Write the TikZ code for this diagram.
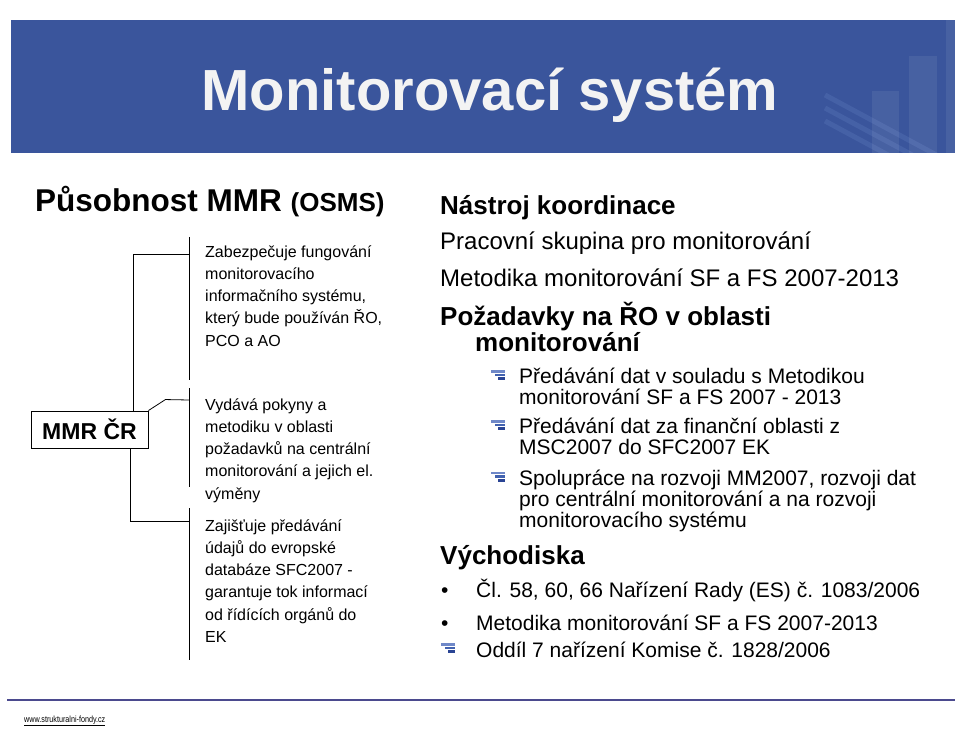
\documentclass[tikz,border=0pt]{standalone}
\usepackage{fontspec}
\setmainfont{Liberation Sans}
\definecolor{hdrblue}{HTML}{3A559C}
\definecolor{hdrstreak}{HTML}{5F7DBE}
\definecolor{titlewhite}{HTML}{F3F3F3}
\definecolor{rulecol}{HTML}{4B4A8E}
\definecolor{barlight}{HTML}{6F88C8}
\definecolor{barmid}{HTML}{4262B0}
\definecolor{bardark}{HTML}{2A4494}
\tikzset{
  barmark/.pic={
    \fill[barlight] (0,0) rectangle (14,2.6);
    \fill[barmid] (4,3.6) rectangle (14,6.4);
    \fill[bardark] (7,7.4) rectangle (14,10.4);
  }
}
\begin{document}
\begin{tikzpicture}[x=1pt, y=-1pt,
    every node/.style={inner sep=0pt},
    para/.style={anchor=base west, align=left},
    small/.style={font=\fontsize{16}{22.3}\selectfont},
    body/.style={font=\fontsize{24}{28}\selectfont},
    sub/.style={font=\fontsize{21}{21}\selectfont},
    head/.style={font=\fontsize{26}{26}\selectfont\bfseries}]
  \useasboundingbox (0,0) rectangle (955,735);
  % header band
  \fill[hdrblue] (11,20) rectangle (955,153);
  \begin{scope}
    \clip (11,20) rectangle (955,153);
    \foreach \d in {0,13,26} {
      \draw[hdrstreak, opacity=.3, line width=5] (825,95+\d) -- (955,165+\d);
    }
    \fill[white, opacity=.07] (872,91) rectangle (899,153);
    \fill[white, opacity=.07] (909,56) rectangle (937,153);
    \fill[white, opacity=.07] (946,20) rectangle (955,153);
  \end{scope}
  \node[anchor=base, text=titlewhite, font=\fontsize{58}{58}\selectfont\bfseries] (title) at (490,111) {Monitorovací systém};

  % left column (multi-line nodes sit on their last line)
  \node[anchor=base west, font=\fontsize{31.5}{31.5}\selectfont\bfseries] (scopehead) at (35,212) {Působnost MMR {\fontsize{26}{26}\selectfont (OSMS)}};
  \node[draw, line width=.9pt, minimum width=117, minimum height=37, font=\fontsize{23}{23}\selectfont\bfseries] (mmr) at (89.5,429.5) {MMR ČR};
  \node[small, para] (duty1) at (205,257+4*22.3) {Zabezpečuje fungování\\monitorovacího\\informačního systému,\\který bude používán ŘO,\\PCO a AO};
  \node[small, para] (duty2) at (205,410+4*22.3) {Vydává pokyny a\\metodiku v oblasti\\požadavků na centrální\\monitorování a jejich el.\\výměny};
  \node[small, para] (duty3) at (205,531+5*22.3) {Zajišťuje předávání\\údajů do evropské\\databáze SFC2007 -\\garantuje tok informací\\od řídících orgánů do\\EK};
  \coordinate (bar1a) at (189,237); \coordinate (bar1b) at (189,380);
  \coordinate (bar2a) at (189,388); \coordinate (bar2b) at (189,487);
  \coordinate (bar3a) at (189,508); \coordinate (bar3b) at (189,660);
  \coordinate (j1) at (189,254);
  \coordinate (j2) at (189,400);
  \coordinate (j3) at (189,521);
  \foreach \i in {1,2,3} {
    \draw[line width=.8pt] (bar\i a) -- (bar\i b);
  }
  \draw[line width=.8pt] ([xshift=-15]mmr.north east) |- (j1);
  \draw[line width=.8pt] (mmr.north east) -- ++(17,-11) -- (j2);
  \draw[line width=.8pt] ([xshift=-18]mmr.south east) |- (j3);

  % right column
  \node[head, anchor=base west] (tool) at (440,215) {Nástroj koordinace};
  \node[body, anchor=base west] (group) at (440,250) {Pracovní skupina pro monitorování};
  \node[body, anchor=base west] (method) at (440,286) {Metodika monitorování SF a FS 2007-2013};
  \node[head, anchor=base west] (req) at (440,325) {Požadavky na ŘO v oblasti};
  \node[head, anchor=base west] (reqb) at (475,351) {monitorování};
  \foreach \y/\n/\txt [count=\i] in {383.5/2/{Předávání dat v souladu s Metodikou\\monitorování SF a FS 2007 - 2013},
      433.5/2/{Předávání dat za finanční oblasti z\\MSC2007 do SFC2007 EK},
      485/3/{Spolupráce na rozvoji MM2007, rozvoji dat\\pro centrální monitorování a na rozvoji\\monitorovacího systému}} {
    \node[sub, para] (item\i) at (519,\y+21*\n-21) {\txt};
    \pic at (491,\y-13.5) {barmark};
  }
  \node[head, anchor=base west] (basis) at (440,564) {Východiska};
  \node[sub, anchor=base west] (dot1) at (441,597) {•};
  \node[sub, anchor=base west] (law1) at (476,597) {Čl. 58, 60, 66 Nařízení Rady (ES) č. 1083/2006};
  \node[sub, anchor=base west] (dot2) at (441,630) {•};
  \node[sub, anchor=base west] (law2) at (476,630) {Metodika monitorování SF a FS 2007-2013};
  \pic at (441,643) {barmark};
  \node[sub, anchor=base west] (law3) at (476,657) {Oddíl 7 nařízení Komise č. 1828/2006};

  % footer
  \draw[rulecol, line width=1.5] (7,700) -- (955,700);
  \node[anchor=base west, font=\fontsize{9}{9}\selectfont] (web) at (24,722) {\scalebox{0.8}[1]{\underline{www.strukturalni-fondy.cz}}};
\end{tikzpicture}
\end{document}
